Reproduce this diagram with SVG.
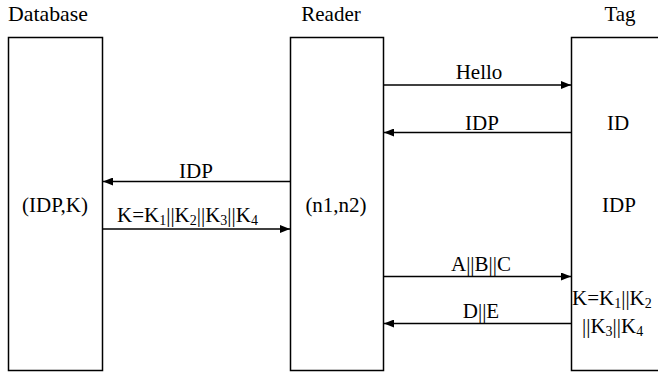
<svg xmlns="http://www.w3.org/2000/svg" width="658" height="376" viewBox="0 0 658 376">
<style>
  .box { fill: #fff; stroke: #000; stroke-width: 1.5; }
  .t { font-family: "Liberation Serif", "DejaVu Serif", serif; font-size: 21px; fill: #000; }
  .m { text-anchor: middle; }
  .sub { font-size: 14px; }
  .conn { stroke: #000; stroke-width: 1.5; fill: none; }
</style>
<defs>
  <marker id="ah" viewBox="0 0 10 8" refX="10" refY="4" markerWidth="10" markerHeight="8" markerUnits="userSpaceOnUse" orient="auto">
    <path d="M0,0 L10,4 L0,8 Z" fill="#000"/>
  </marker>
</defs>
<rect width="658" height="376" fill="#fff"/>
<g id="database">
  <text class="t" x="8" y="21" textLength="80" lengthAdjust="spacingAndGlyphs">Database</text>
  <rect class="box" x="8.5" y="37.5" width="94" height="333"/>
  <text class="t m" x="55" y="212">(IDP,K)</text>
</g>
<g id="reader">
  <text class="t m" x="331" y="21">Reader</text>
  <rect class="box" x="290.5" y="37.5" width="93" height="333"/>
  <text class="t m" x="336" y="212">(n1,n2)</text>
</g>
<g id="tag">
  <text class="t m" x="620" y="21">Tag</text>
  <rect class="box" x="571.5" y="37.5" width="100" height="333"/>
  <text class="t m" x="618" y="130">ID</text>
  <text class="t m" x="619" y="212">IDP</text>
  <text class="t" x="572" y="305">K=K<tspan class="sub" dy="3">1</tspan><tspan dy="-3">||K</tspan><tspan class="sub" dy="3">2</tspan></text>
  <text class="t" x="582" y="333">||K<tspan class="sub" dy="3">3</tspan><tspan dy="-3">||K</tspan><tspan class="sub" dy="3">4</tspan></text>
</g>
<g id="connectors">
  <line class="conn" x1="384" y1="85" x2="571" y2="85" marker-end="url(#ah)"/>
  <text class="t m" x="479" y="79">Hello</text>
  <line class="conn" x1="571" y1="132.5" x2="384" y2="132.5" marker-end="url(#ah)"/>
  <text class="t m" x="482" y="130">IDP</text>
  <line class="conn" x1="290" y1="181.5" x2="103" y2="181.5" marker-end="url(#ah)"/>
  <text class="t m" x="196" y="178">IDP</text>
  <line class="conn" x1="103" y1="229" x2="290" y2="229" marker-end="url(#ah)"/>
  <text class="t" x="117" y="222">K=K<tspan class="sub" dy="3">1</tspan><tspan dy="-3">||K</tspan><tspan class="sub" dy="3">2</tspan><tspan dy="-3">||K</tspan><tspan class="sub" dy="3">3</tspan><tspan dy="-3">||K</tspan><tspan class="sub" dy="3">4</tspan></text>
  <line class="conn" x1="384" y1="276.5" x2="571" y2="276.5" marker-end="url(#ah)"/>
  <text class="t m" x="481" y="271">A||B||C</text>
  <line class="conn" x1="571" y1="323.5" x2="384" y2="323.5" marker-end="url(#ah)"/>
  <text class="t m" x="481" y="318">D||E</text>
</g>
</svg>
